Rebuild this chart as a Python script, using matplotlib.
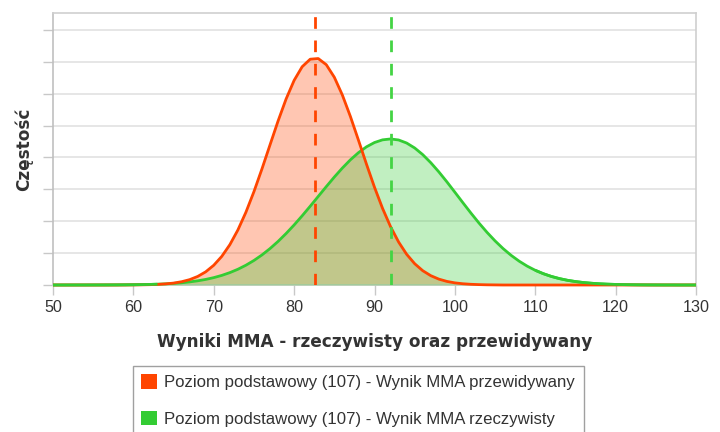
import matplotlib
matplotlib.use("Agg")
import matplotlib.pyplot as plt
from matplotlib.patches import Patch

# ---- data ----
x_vals = list(range(50, 131))

pred_vals = [0, 0, 0, 0, 0, 0, 0, 0, 0, 0.001,            # 50-59
             0.003, 0.005, 0.010, 0.019, 0.035, 0.060, 0.103, 0.168, 0.268, 0.413,   # 60-69
             0.619, 0.898, 1.263, 1.724, 2.281, 2.927, 3.642, 4.394, 5.141, 5.833,   # 70-79
             6.417, 6.845, 7.081, 7.102, 6.909, 6.516, 5.959, 5.286, 4.545, 3.791,   # 80-89
             3.065, 2.404, 1.828, 1.348, 0.963, 0.668, 0.449, 0.293, 0.185, 0.113,   # 90-99
             0.067, 0.039, 0.022, 0.012, 0.006, 0.003, 0, 0, 0, 0,                   # 100-109
             0, 0, 0, 0, 0, 0, 0, 0, 0, 0,                                           # 110-119
             0, 0, 0, 0, 0, 0, 0, 0, 0, 0,                                           # 120-129
             0]                                                                      # 130

real_vals = [0, 0, 0.0002, 0.0004, 0.0006, 0.001, 0.0015, 0.0024, 0.0036, 0.0055,   # 50-59
             0.0082, 0.0121, 0.0177, 0.0255, 0.036, 0.051, 0.070, 0.097, 0.131, 0.175,  # 60-69
             0.231, 0.301, 0.388, 0.493, 0.620, 0.769, 0.943, 1.142, 1.366, 1.614,   # 70-79
             1.883, 2.170, 2.470, 2.778, 3.085, 3.385, 3.667, 3.925, 4.149, 4.333,   # 80-89
             4.468, 4.552, 4.580, 4.548, 4.452, 4.297, 4.089, 3.836, 3.549, 3.237,   # 90-99
             2.910, 2.580, 2.255, 1.943, 1.651, 1.383, 1.142, 0.930, 0.747, 0.591,   # 100-109
             0.461, 0.355, 0.269, 0.201, 0.148, 0.108, 0.077, 0.055, 0.038, 0.026,   # 110-119
             0.018, 0.012, 0.008, 0.005, 0.003, 0.002, 0.001, 0.001, 0, 0,           # 120-129
             0]                                                                      # 130

pred_mean = 82.6
real_mean = 92.0

x_ticks = [50, 60, 70, 80, 90, 100, 110, 120, 130]
y_grid = [0, 1, 2, 3, 4, 5, 6, 7, 8]

x_label = "Wyniki MMA - rzeczywisty oraz przewidywany"
y_label = "Częstość"
legend_labels = ["Poziom podstawowy (107) - Wynik MMA przewidywany",
                 "Poziom podstawowy (107) - Wynik MMA rzeczywisty"]

orange = "#FF4500"
green = "#33CC33"
green_dash = "#44D444"

# ---- figure ----
fig = plt.figure(figsize=(7.2, 4.32), dpi=100)
ax = fig.add_axes([53 / 720, 1 - 285 / 432, (696 - 53) / 720, (285 - 13) / 432])

ax.set_xlim(50, 130)
ax.set_ylim(0, 8.53)

ax.set_yticks(y_grid)
ax.set_yticklabels([])
ax.set_xticks(x_ticks)
ax.set_xticklabels([str(t) for t in x_ticks], fontsize=11.6,
                   family=["Liberation Sans", "DejaVu Sans"], color="#333333")
ax.tick_params(axis="x", length=7, width=1, color="#c8c8c8", pad=4)
ax.tick_params(axis="y", length=7, width=1, color="#c8c8c8")

ax.grid(axis="y", color="#e2e2e2", linewidth=1.2, zorder=0)
ax.set_axisbelow(True)

for side in ["top", "right", "left", "bottom"]:
    ax.spines[side].set_color("#cfcfcf")
    ax.spines[side].set_linewidth(1.2)
ax.spines["left"].set_color("#c0c0c0")

# curves: fills first, then lines on top
ax.fill_between(x_vals, pred_vals, 0, color=orange, alpha=0.3, linewidth=0, zorder=2)
ax.fill_between(x_vals, real_vals, 0, color=green, alpha=0.3, linewidth=0, zorder=3)
ax.plot(x_vals, real_vals, color=green, linewidth=2.0, zorder=4, clip_on=False,
        solid_capstyle="butt", solid_joinstyle="round")
ax.plot(x_vals, pred_vals, color=orange, linewidth=2.0, zorder=5, clip_on=False,
        solid_capstyle="butt", solid_joinstyle="round")
# green baseline segments drawn over the flat orange tails
ax.plot(x_vals[:14], real_vals[:14], color=green, linewidth=2.0, zorder=5.5,
        clip_on=False, solid_capstyle="butt")
ax.plot(x_vals[60:], real_vals[60:], color=green, linewidth=2.0, zorder=5.5,
        clip_on=False, solid_capstyle="butt")

# mean lines
ax.axvline(pred_mean, color=orange, linewidth=2.0, dashes=(4.2, 4.2), zorder=6)
ax.axvline(real_mean, color=green_dash, linewidth=2.0, dashes=(4.2, 4.2), zorder=6)

ax.set_xlabel(x_label, fontsize=12.2, fontweight="bold", color="#333333",
              family="DejaVu Sans", labelpad=13)
ax.set_ylabel(y_label, fontsize=12.2, fontweight="bold", color="#333333",
              family="DejaVu Sans", labelpad=4)

# legend
handles = [Patch(facecolor=orange, edgecolor="none"),
           Patch(facecolor=green, edgecolor="none")]
leg = fig.legend(handles, legend_labels, loc="upper left",
                 bbox_to_anchor=(133 / 720, 1 - 366 / 432), borderaxespad=0,
                 prop={"family": ["Liberation Sans", "DejaVu Sans"], "size": 12.1},
                 handlelength=0.95, handleheight=0.95, handletextpad=0.42,
                 labelspacing=1.2, borderpad=0.5, frameon=True, fancybox=False,
                 edgecolor="#a0a0a0", framealpha=1)
leg.get_frame().set_linewidth(1.0)
for t in leg.get_texts():
    t.set_color("#333333")

fig.savefig("out.png", dpi=100)
